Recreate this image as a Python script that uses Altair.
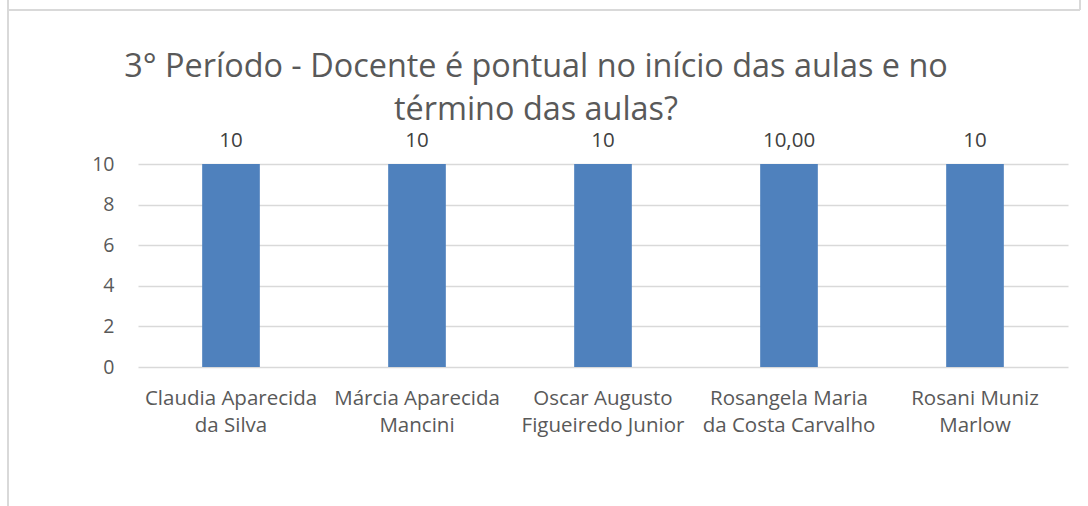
import altair as alt
import pandas as pd

names = [
    "Claudia Aparecida\nda Silva",
    "Márcia Aparecida\nMancini",
    "Oscar Augusto\nFigueiredo Junior",
    "Rosangela Maria\nda Costa Carvalho",
    "Rosani Muniz\nMarlow",
]
scores = [10, 10, 10, 10, 10]
score_labels = ["10", "10", "10", "10,00", "10"]
y_ticks = [0, 2, 4, 6, 8, 10]
title_lines = ["3° Período - Docente é pontual no início das aulas e no", "término das aulas?"]

df = pd.DataFrame({"name": names, "score": scores, "lab": score_labels})

FONT = "Open Sans"
GRAY = "#595959"

x_enc = alt.X(
    "name:N",
    sort=None,
    scale=alt.Scale(paddingInner=0.69, paddingOuter=0.345),
    axis=alt.Axis(
        title=None, domain=False, ticks=False, labelAngle=0, grid=False,
        labelExpr="split(datum.label, '\\n')",
        labelFont=FONT, labelFontSize=20.5, labelColor=GRAY,
        labelLineHeight=27, labelPadding=21, labelBaseline="top",
    ),
)
y_enc = alt.Y(
    "score:Q",
    scale=alt.Scale(domain=[0, 10], nice=False),
    axis=alt.Axis(
        title=None, domain=False, ticks=False, values=y_ticks,
        gridColor="#d9d9d9", gridWidth=1.3,
        labelFont=FONT, labelFontSize=19.5, labelColor=GRAY, labelPadding=24,
    ),
)

bars = alt.Chart(df).mark_bar(color="#4f81bd").encode(x=x_enc, y=y_enc)
texts = alt.Chart(df).mark_text(
    font=FONT, fontSize=20.5, color="#404040", baseline="alphabetic", dy=-17
).encode(x=alt.X("name:N", sort=None), y="score:Q", text="lab:N")

title_df = pd.DataFrame({"t": ["\n".join(title_lines)]})
title = alt.Chart(title_df).mark_text(
    font=FONT, fontSize=32.4, color=GRAY, baseline="alphabetic", align="center",
    lineBreak="\n", lineHeight=43,
).encode(x=alt.value(398), y=alt.value(-87), text="t:N")

frame_df = pd.DataFrame({"k": [0]})
hline = alt.Chart(frame_df).mark_rule(color="#d9d9d9", strokeWidth=2).encode(
    x=alt.value(-130), x2=alt.value(942), y=alt.value(-154)
)
vline_left = alt.Chart(frame_df).mark_rule(color="#d9d9d9", strokeWidth=2).encode(
    x=alt.value(-130), y=alt.value(-164), y2=alt.value(342)
)
vline_right = alt.Chart(frame_df).mark_rule(color="#d9d9d9", strokeWidth=2).encode(
    x=alt.value(942), y=alt.value(-164), y2=alt.value(-154)
)

chart = alt.layer(bars, texts, title, hline, vline_left, vline_right).properties(
    width=930,
    height=203,
    background="white",
    autosize=alt.AutoSizeParams(type="none"),
    padding={"left": 138, "top": 164, "right": 20, "bottom": 139},
).configure_view(stroke=None, strokeWidth=0)

chart.save("out.html", embed_options={"renderer": "svg", "actions": False})
